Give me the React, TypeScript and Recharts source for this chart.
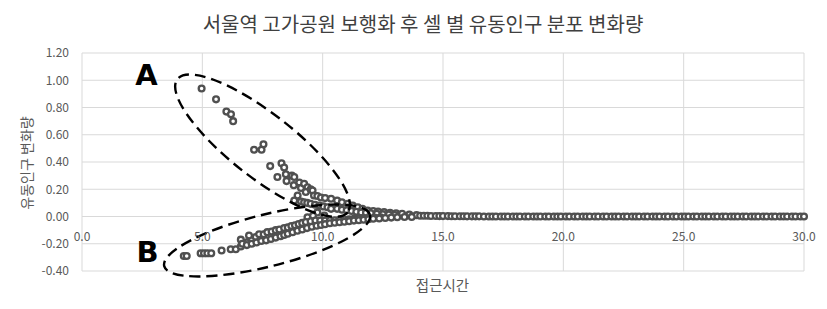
import { ScatterChart, Scatter, XAxis, YAxis, CartesianGrid, ReferenceDot } from 'recharts';

// axis ticks
const xTicks = [0, 5, 10, 15, 20, 25, 30];
const yTicks = [-0.4, -0.2, 0, 0.2, 0.4, 0.6, 0.8, 1.0, 1.2];

// A: cells that gained flow
const branchA: [number, number][] = [
  [4.97, 0.94], [5.57, 0.86], [6.0, 0.77], [6.19, 0.75], [6.28, 0.7],
  [7.15, 0.49], [7.46, 0.49], [7.54, 0.53], [7.82, 0.37], [8.12, 0.29],
  [8.29, 0.39], [8.4, 0.36], [8.47, 0.31], [8.5, 0.26], [8.72, 0.3],
  [8.82, 0.29], [8.8, 0.23], [9.03, 0.25], [9.1, 0.21], [9.23, 0.24],
  [9.37, 0.215], [9.3, 0.18], [9.5, 0.2], [9.58, 0.19], [9.64, 0.154],
  [9.78, 0.15], [9.93, 0.14], [10.1, 0.135], [10.35, 0.13], [10.6, 0.117],
  [10.8, 0.105], [11.04, 0.093], [11.25, 0.08], [11.46, 0.068], [11.65, 0.056],
  [11.87, 0.044], [12.1, 0.04], [12.3, 0.036], [12.55, 0.032], [12.8, 0.028],
  [13.05, 0.024], [13.3, 0.02], [13.6, 0.015], [13.9, 0.01],
];

const middleBand: [number, number][] = [
  [8.82, 0.117], [8.96, 0.154], [9.1, 0.11], [9.23, 0.105], [9.36, 0.1],
  [9.5, 0.093], [9.68, 0.086], [9.86, 0.08], [10.03, 0.074], [10.2, 0.068],
  [10.35, 0.056], [10.6, 0.056], [10.8, 0.05], [11.0, 0.045], [11.2, 0.04],
  [11.4, 0.034], [11.6, 0.03], [11.8, 0.027], [12.0, 0.024], [12.25, 0.02],
  [12.5, 0.017], [12.75, 0.014], [13.0, 0.011], [9.78, 0.03], [10.07, 0.007],
  [9.37, -0.005], [9.6, 0.005],
];

// B: cells that lost flow
const branchBUpper: [number, number][] = [
  [4.23, -0.29], [4.35, -0.29], [4.93, -0.27], [5.07, -0.27], [5.21, -0.27],
  [5.37, -0.27], [5.8, -0.25], [6.18, -0.24], [6.39, -0.24], [6.6, -0.17],
  [6.85, -0.19], [6.94, -0.14], [7.22, -0.15], [7.36, -0.13], [7.55, -0.13],
  [7.7, -0.115], [7.88, -0.11], [8.05, -0.1], [8.2, -0.095], [8.4, -0.085],
  [8.55, -0.08], [8.7, -0.07], [8.85, -0.065], [9.0, -0.055], [9.15, -0.047],
  [9.3, -0.04], [9.5, -0.035], [9.7, -0.03], [9.9, -0.03], [10.1, -0.03],
  [10.3, -0.028], [10.5, -0.027], [10.7, -0.025], [10.9, -0.022], [11.1, -0.02],
  [11.3, -0.017], [11.5, -0.014], [11.7, -0.012], [11.9, -0.01], [12.15, -0.007],
  [12.4, -0.005],
];

const branchBLower: [number, number][] = [
  [6.6, -0.22], [6.66, -0.2], [6.85, -0.21], [7.05, -0.2], [7.25, -0.19],
  [7.45, -0.18], [7.65, -0.175], [7.85, -0.165], [8.05, -0.155], [8.25, -0.145],
  [8.4, -0.135], [8.55, -0.127], [8.75, -0.115], [8.95, -0.105], [9.15, -0.095],
  [9.35, -0.085], [9.55, -0.075], [9.75, -0.068], [9.93, -0.062], [10.1, -0.056],
  [10.3, -0.05], [10.5, -0.046], [10.7, -0.042], [10.9, -0.038], [11.1, -0.034],
  [11.3, -0.03], [11.5, -0.027], [11.7, -0.024], [11.9, -0.02], [12.1, -0.017],
  [12.35, -0.014], [12.6, -0.011], [12.85, -0.008], [13.1, -0.006], [13.4, -0.004],
  [13.7, -0.003],
];

// long flat tail out to 30 min
const tail: [number, number][] = [
  [14.05, 0.006], [14.2, 0.005], [14.35, 0.005], [14.5, 0.004], [14.7, 0.004],
  [14.85, 0.003], [15.0, 0.003], [15.2, 0.003], [15.35, 0.002], [15.5, 0.002],
  [15.7, 0.002], [15.85, 0.002], [16.0, 0.001], [16.2, 0.001], [16.35, 0.001],
  [16.5, 0.001], [16.7, 0], [16.9, 0], [17.05, 0], [17.2, 0], [17.4, 0],
  [17.55, 0], [17.7, 0], [17.9, 0], [18.05, 0], [18.2, 0], [18.4, 0],
  [18.55, 0], [18.75, 0], [18.9, 0], [19.05, 0], [19.25, 0], [19.4, 0],
  [19.6, 0], [19.75, 0], [19.9, 0], [20.1, 0], [20.25, 0], [20.45, 0],
  [20.6, 0], [20.8, 0], [20.95, 0], [21.1, 0], [21.3, 0], [21.45, 0],
  [21.65, 0], [21.8, 0], [22.0, 0], [22.15, 0], [22.3, 0], [22.5, 0],
  [22.65, 0], [22.85, 0], [23.0, 0], [23.15, 0], [23.35, 0], [23.5, 0],
  [23.7, 0], [23.85, 0], [24.0, 0], [24.2, 0], [24.35, 0], [24.55, 0],
  [24.7, 0], [24.9, 0], [25.05, 0], [25.2, 0], [25.4, 0], [25.55, 0],
  [25.75, 0], [25.9, 0], [26.05, 0], [26.25, 0], [26.4, 0], [26.6, 0],
  [26.75, 0], [26.95, 0], [27.1, 0], [27.25, 0], [27.45, 0], [27.6, 0],
  [27.8, 0], [27.95, 0], [28.1, 0], [28.3, 0], [28.45, 0], [28.65, 0],
  [28.8, 0], [29.0, 0], [29.15, 0], [29.3, 0], [29.5, 0], [29.65, 0],
  [29.85, 0], [30.0, 0],
];

const points = [...branchA, ...middleBand, ...branchBUpper, ...branchBLower, ...tail]
  .map(([x, y]) => ({ x, y }));

// dashed annotation ellipses (centre in data units, radii in px)
const ellipses = [
  { x: 7.5, y: 0.52, rx: 108, ry: 32, angle: 38 },
  { x: 7.69, y: -0.176, rx: 106, ry: 26, angle: -14 },
];
const letters = [
  { x: 2.68, y: 1.035, label: 'A' },
  { x: 2.72, y: -0.264, label: 'B' },
];

const W = 827;
const H = 309;
const xAxisH = 1;
const margin = { top: 53, right: 23, bottom: 37, left: 0 };
const plotH = H - margin.top - margin.bottom - xAxisH;
const zeroOffset = (plotH * (0 - yTicks[0])) / (yTicks[yTicks.length - 1] - yTicks[0]);

const grey = '#595959';
const font = '"Noto Sans CJK KR", "Noto Sans", sans-serif';

const XTick = ({ x, y, payload }: any) => (
  <text x={x} y={y - zeroOffset + 19} textAnchor="middle" dominantBaseline="central"
    fontSize={12} fill={grey} fontFamily={font}>
    {Number(payload.value).toFixed(1)}
  </text>
);

const Ring = ({ cx, cy }: any) => (
  <circle cx={cx} cy={cy} r={2.9} fill="#fff" stroke="#505050" strokeWidth={2.3} />
);

export default function App() {
  return (
    <div style={{ position: 'relative', width: W, height: H, background: '#fff', fontFamily: font }}>
      <style>{`body{margin:0}`}</style>
      <div style={{ position: 'absolute', left: 423, top: 24, transform: 'translate(-50%,-50%)', whiteSpace: 'nowrap', fontSize: 20, lineHeight: 1, color: '#404040' }}>
        서울역 고가공원 보행화 후 셀 별 유동인구 분포 변화량
      </div>
      <div style={{ position: 'absolute', left: 25.5, top: 162.5, transform: 'translate(-50%,-50%) rotate(-90deg)', whiteSpace: 'nowrap', fontSize: 14, lineHeight: 1, color: grey }}>
        유동인구 변화량
      </div>
      <div style={{ position: 'absolute', left: 442.5, top: 285, transform: 'translate(-50%,-50%)', whiteSpace: 'nowrap', fontSize: 14.5, lineHeight: 1, color: grey }}>
        접근시간
      </div>
      <ScatterChart width={W} height={H} margin={margin}>
        <CartesianGrid stroke="#d9d9d9" strokeWidth={1} />
        <XAxis type="number" dataKey="x" domain={[0, 30]} ticks={xTicks} height={xAxisH}
          axisLine={false} tickLine={false} tickSize={0} tickMargin={0} tick={XTick} interval={0} />
        <YAxis type="number" dataKey="y" domain={[-0.4, 1.2]} ticks={yTicks} width={82}
          axisLine={false} tickLine={false} tickSize={0} tickMargin={13} interval={0}
          tickFormatter={(v: number) => v.toFixed(2)}
          tick={{ fontSize: 12, fill: grey, fontFamily: font }} />
        <Scatter data={points} shape={<Ring />} isAnimationActive={false} />
        {ellipses.map((e, i) => (
          <ReferenceDot key={`e${i}`} x={e.x} y={e.y}
            shape={(p: any) => (
              <ellipse cx={p.cx} cy={p.cy} rx={e.rx} ry={e.ry}
                transform={`rotate(${e.angle} ${p.cx} ${p.cy})`}
                fill="none" stroke="#000" strokeWidth={2.4} strokeDasharray="11 6" />
            )} />
        ))}
        {letters.map((l) => (
          <ReferenceDot key={l.label} x={l.x} y={l.y}
            shape={(p: any) => (
              <text x={p.cx} y={p.cy} textAnchor="middle" dominantBaseline="central"
                fontSize={29} fontWeight={700} fill="#000"
                fontFamily='"DejaVu Sans", sans-serif'>
                {l.label}
              </text>
            )} />
        ))}
      </ScatterChart>
    </div>
  );
}
